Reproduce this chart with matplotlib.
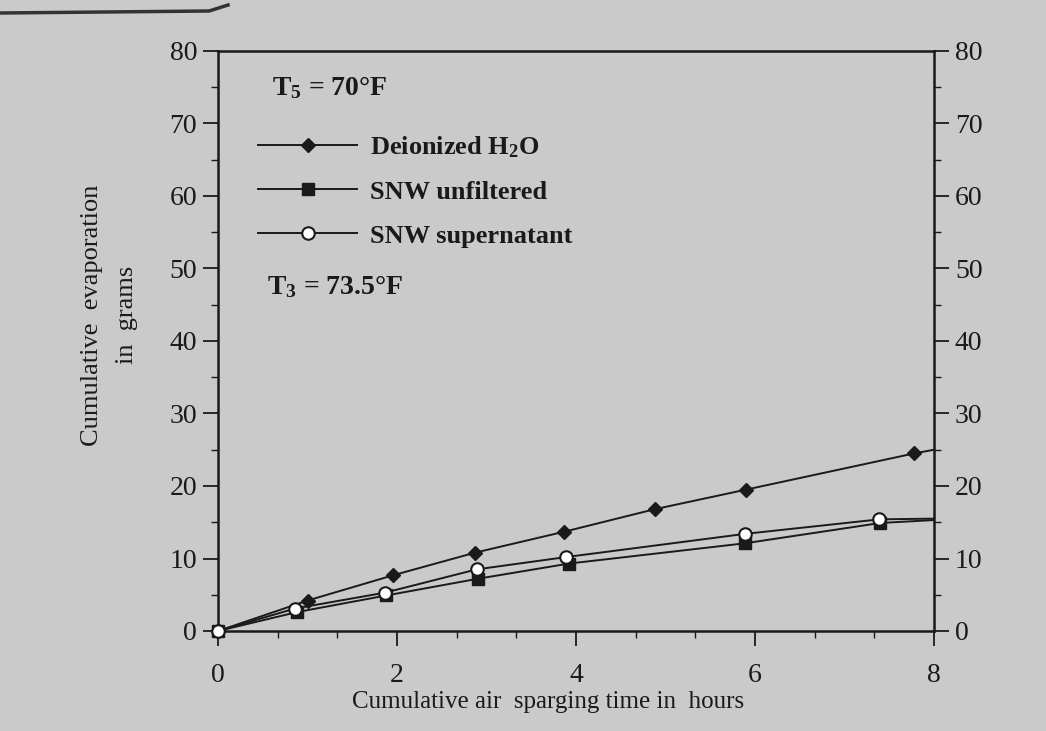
import matplotlib
matplotlib.use("Agg")
import matplotlib.pyplot as plt
from matplotlib.lines import Line2D
from matplotlib.ticker import MultipleLocator

# ---- data ----
hours_deion = [0, 1.0, 1.96, 2.87, 3.87, 4.88, 5.90, 7.78, 8.0]
evap_deion = [0, 4.2, 7.7, 10.8, 13.7, 16.8, 19.5, 24.5, 25.0]

hours_unfilt = [0, 0.88, 1.88, 2.90, 3.92, 5.89, 7.40, 8.0]
evap_unfilt = [0, 2.6, 4.9, 7.2, 9.3, 12.1, 14.9, 15.3]

hours_super = [0, 0.86, 1.87, 2.89, 3.89, 5.89, 7.39, 8.0]
evap_super = [0, 3.1, 5.3, 8.5, 10.2, 13.4, 15.4, 15.5]

labels = ["Deionized H$_2$O", "SNW unfiltered", "SNW supernatant"]
x_ticks = [0, 2, 4, 6, 8]
y_ticks = [0, 10, 20, 30, 40, 50, 60, 70, 80]

BG = "#cacaca"
INK = "#1a1a1a"

plt.rcParams["font.family"] = ["Liberation Serif", "DejaVu Serif"]
plt.rcParams["mathtext.default"] = "regular"

fig = plt.figure(figsize=(10.46, 7.31), dpi=100, facecolor=BG)
ax = fig.add_axes([218 / 1046, 1 - 631 / 731, (934 - 218) / 1046, 580 / 731])
ax.set_facecolor(BG)

ax.plot(hours_deion, evap_deion, color=INK, lw=1.4, marker="D", ms=7,
        mfc=INK, mec=INK, markevery=list(range(len(hours_deion) - 1)),
        label=labels[0], clip_on=False, zorder=3)
ax.plot(hours_unfilt, evap_unfilt, color=INK, lw=1.4, marker="s", ms=8,
        mfc=INK, mec=INK, markevery=list(range(len(hours_unfilt) - 1)),
        label=labels[1], clip_on=False, zorder=3)
ax.plot(hours_super, evap_super, color=INK, lw=1.4, marker="o", ms=9,
        mfc="white", mec=INK, mew=1.5, markevery=list(range(len(hours_super) - 1)),
        label=labels[2], clip_on=False, zorder=4)

ax.set_xlim(0, 8)
ax.set_ylim(0, 80)
ax.set_xticks(x_ticks)
ax.set_yticks(y_ticks)
ax.xaxis.set_minor_locator(MultipleLocator(2 / 3))
ax.yaxis.set_minor_locator(MultipleLocator(5))
ax.tick_params(axis="both", which="major", direction="out", length=11, width=1.3,
               color=INK, labelcolor=INK, labelsize=20)
ax.tick_params(axis="both", which="minor", direction="out", length=5, width=1.0, color=INK)
ax.tick_params(axis="y", which="both", right=True, labelright=True, pad=4)
ax.tick_params(axis="x", which="major", pad=12)
for s in ax.spines.values():
    s.set_color(INK)
    s.set_linewidth(1.8)

leg = ax.legend(loc="upper left", bbox_to_anchor=(0.056, 0.857), frameon=False,
                handlelength=3.75, handletextpad=0.5, labelspacing=0.78,
                borderaxespad=0, borderpad=0, numpoints=1,
                prop={"family": "Liberation Serif", "weight": "bold", "size": 19})
for t in leg.get_texts():
    t.set_color(INK)

ax.text(0.075, 0.936, "T$_5$ = 70°F", transform=ax.transAxes, fontsize=20,
        fontweight="bold", color=INK, va="center", ha="left")
ax.text(0.068, 0.593, "T$_3$ = 73.5°F", transform=ax.transAxes, fontsize=20,
        fontweight="bold", color=INK, va="center", ha="left")

fig.text(548 / 1046, 1 - 702 / 731, "Cumulative air  sparging time in  hours",
         fontsize=18, color=INK, ha="center", va="center")
fig.text(92 / 1046, 1 - 315 / 731, "Cumulative  evaporation", rotation=90,
         fontsize=19, color=INK, ha="center", va="center")
fig.text(127 / 1046, 1 - 315 / 731, "in  grams", rotation=90,
         fontsize=19, color=INK, ha="center", va="center")

# page edge from the scan
fig.add_artist(Line2D([0, 0.2, 0.218], [1 - 13 / 731, 1 - 11 / 731, 1 - 5 / 731],
                      transform=fig.transFigure, color="#333333", lw=2.5))

fig.savefig("out.png", dpi=100, facecolor=BG)
